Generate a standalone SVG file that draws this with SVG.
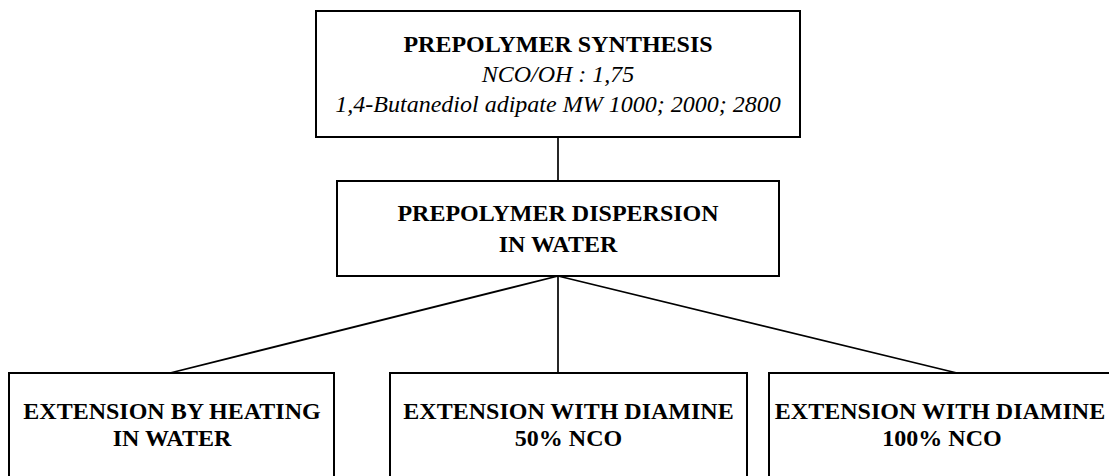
<svg xmlns="http://www.w3.org/2000/svg" width="1109" height="476" viewBox="0 0 1109 476">
<style>
.box{fill:#fff;stroke:#000;stroke-width:2}
.ln{stroke:#000;stroke-width:1.7;fill:none}
.t{font-family:"Liberation Serif","Times New Roman",serif;font-size:24px;fill:#000;text-anchor:middle}
.b{font-weight:bold}
.i{font-style:italic}
</style>
<rect width="1109" height="476" fill="#fff"/>
<g id="connectors">
<line class="ln" x1="558" y1="137" x2="558" y2="181"/>
<line class="ln" x1="558" y1="276" x2="170" y2="373"/>
<line class="ln" x1="558" y1="276" x2="558" y2="373"/>
<line class="ln" x1="558" y1="276" x2="957" y2="373"/>
</g>
<g id="prepolymer-synthesis">
<rect class="box" x="316" y="11" width="484" height="126"/>
<text class="t b" x="558" y="52">PREPOLYMER SYNTHESIS</text>
<text class="t i" x="558" y="82">NCO/OH : 1,75</text>
<text class="t i" x="558" y="112">1,4-Butanediol adipate MW 1000; 2000; 2800</text>
</g>
<g id="prepolymer-dispersion">
<rect class="box" x="337" y="181" width="442" height="95"/>
<text class="t b" x="558" y="221">PREPOLYMER DISPERSION</text>
<text class="t b" x="558" y="252">IN WATER</text>
</g>
<g id="extension-heating">
<rect class="box" x="9" y="373" width="325" height="120"/>
<text class="t b" x="172" y="419">EXTENSION BY HEATING</text>
<text class="t b" x="172" y="446">IN WATER</text>
</g>
<g id="extension-diamine-50">
<rect class="box" x="390" y="373" width="357" height="120"/>
<text class="t b" x="568.5" y="419">EXTENSION WITH DIAMINE</text>
<text class="t b" x="568.5" y="446">50% NCO</text>
</g>
<g id="extension-diamine-100">
<rect class="box" x="769" y="373" width="360" height="120"/>
<text class="t b" x="940" y="419">EXTENSION WITH DIAMINE</text>
<text class="t b" x="942" y="446">100% NCO</text>
</g>
</svg>
